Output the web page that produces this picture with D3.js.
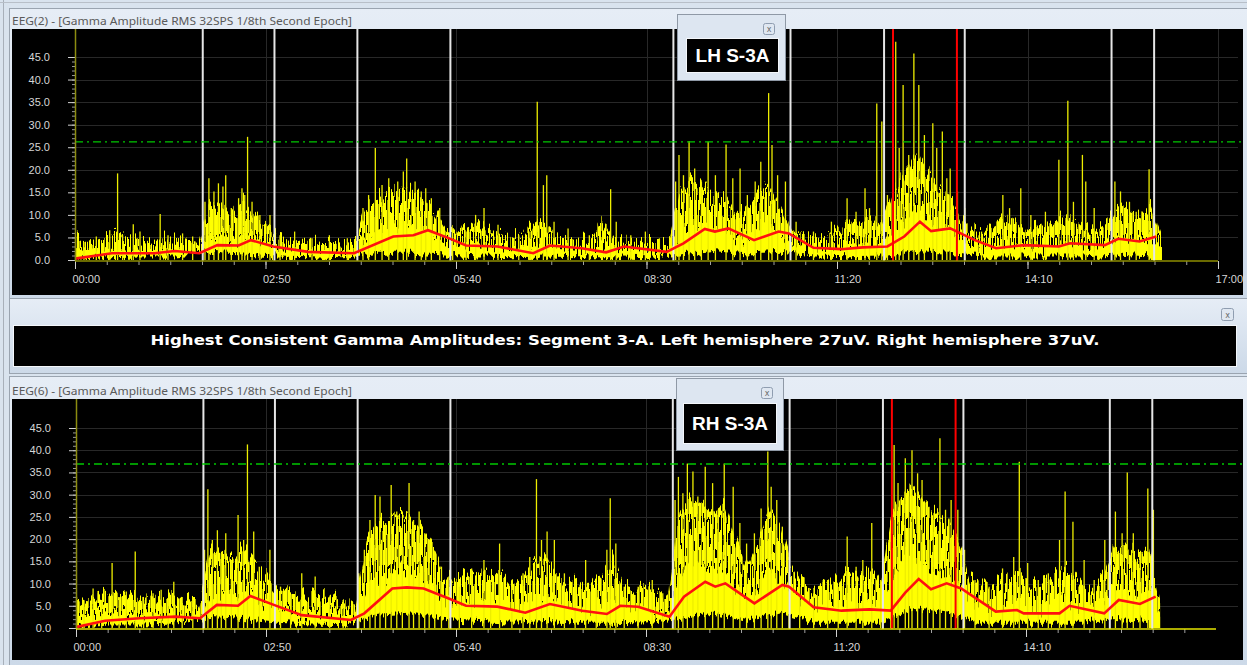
<!DOCTYPE html>
<html><head><meta charset="utf-8">
<script src="https://cdn.jsdelivr.net/npm/d3@7"></script>
<style>body{margin:0;background:#d6e0eb;overflow:hidden}svg{display:block}</style>
</head><body>
<svg id="c" width="1247" height="665"></svg>
<script>
// ---------------- DATA ----------------
const timeTickSeconds = [0, 170, 340, 510, 680, 850, 1020];
const timeTickLabels = ["00:00", "02:50", "05:40", "08:30", "11:20", "14:10", "17:00"];
const ampTicks = [0, 5, 10, 15, 20, 25, 30, 35, 40, 45];
const ampTickLabels = ["0.0", "5.0", "10.0", "15.0", "20.0", "25.0", "30.0", "35.0", "40.0", "45.0"];
const epochMarks = [114, 178, 252, 335, 534, 638.5, 722, 794, 925, 963];
const segmentMarks = [730, 787];
const lhThreshold = 26.2;
const rhThreshold = 36.9;

// sample grid (seconds) for the dense-signal envelopes
const bodyTimes = d3.range(0, 971, 10);
// solid core of the dense signal
const lhCore = [3.0,2.0,2.2,2.5,2.5,2.2,2.0,2.0,2.2,2.5,
  2.2,2.0,5.5,5.0,4.5,5.5,4.5,3.5,2.5,2.2,
  2.0,2.0,1.8,1.8,1.6,2.0,5.0,6.0,7.0,7.5,
  8.0,7.0,5.5,3.5,3.0,3.0,3.5,3.0,2.6,2.4,
  2.6,3.5,3.2,2.5,2.2,2.0,2.0,3.5,2.4,2.0,
  2.0,1.8,1.8,1.8,6.5,8.0,8.0,7.0,6.5,4.5,
  5.0,7.0,7.5,5.5,3.0,2.5,2.0,2.2,2.5,3.0,
  3.5,4.0,3.5,6.0,8.5,11.0,9.0,8.0,7.0,4.5,
  3.2,2.6,3.0,3.5,3.2,3.0,3.0,3.2,3.5,3.5,
  3.0,2.8,3.5,5.0,4.5,4.5,5.0,2.5];
// upper reach of the dense spiky fringe
const lhUpper = [5.0,4.0,4.5,5.5,6.0,5.0,4.5,4.0,5.0,5.0,
  4.5,4.0,13.0,12.0,10.0,13.0,10.0,8.0,5.5,5.0,
  4.5,4.5,4.0,4.0,3.5,4.5,12.0,14.0,15.0,16.0,
  16.0,14.0,11.0,7.0,6.5,7.0,8.0,6.5,6.0,5.0,
  6.0,8.5,7.5,5.5,5.0,4.5,4.5,9.0,5.0,4.5,
  4.5,4.0,4.0,4.0,16.0,18.0,17.0,15.0,14.0,10.0,
  12.0,15.0,17.0,12.0,6.5,5.5,5.0,5.5,6.5,8.0,
  9.0,9.5,8.0,15.0,19.0,24.0,20.0,17.0,14.0,9.0,
  7.0,6.0,8.0,9.5,8.0,7.0,7.5,8.0,9.5,9.0,
  7.0,6.5,8.0,12.0,11.0,10.0,12.0,5.0];
const rhCore = [3.5,2.5,2.8,3.2,2.8,3.2,2.8,3.0,3.2,3.0,
  2.8,2.5,8.0,7.5,6.5,8.5,7.0,5.0,4.0,3.0,
  3.2,3.0,2.8,2.5,2.2,2.8,9.0,11.0,12.0,13.0,
  12.5,11.0,9.0,6.5,5.0,5.5,6.0,5.5,6.0,4.5,
  5.0,7.0,7.5,5.5,4.5,5.0,4.0,5.0,7.0,4.5,
  4.0,4.0,3.5,3.2,12.0,15.0,14.0,13.0,14.0,9.5,
  6.5,9.0,13.0,11.0,6.5,4.5,4.0,4.5,4.5,5.5,
  5.0,6.0,4.5,12.0,15.0,16.0,14.0,13.0,12.0,9.0,
  5.0,4.5,4.5,5.0,5.5,5.0,4.5,4.8,5.5,6.0,
  4.5,4.0,5.5,9.0,8.5,7.5,8.5,3.0];
const rhUpper = [7.0,6.0,6.5,8.0,7.0,8.0,6.5,7.0,7.5,7.0,
  6.5,6.0,18.0,17.0,15.0,18.0,15.0,12.0,9.0,7.5,
  8.0,7.5,6.5,6.0,5.5,6.5,20.0,24.0,25.0,26.0,
  25.0,22.0,18.0,13.0,11.0,12.0,13.0,12.0,13.0,10.0,
  11.0,15.0,16.0,12.0,10.0,11.0,9.0,12.0,16.0,10.0,
  9.0,9.5,8.0,7.5,26.0,29.0,28.0,26.0,28.0,20.0,
  14.0,19.0,27.0,23.0,14.0,10.0,9.0,10.0,10.0,13.0,
  12.0,14.0,10.0,26.0,30.0,32.0,28.0,26.0,24.0,19.0,
  11.0,10.0,10.0,11.0,12.0,11.0,10.0,10.5,12.0,13.0,
  10.0,9.0,12.0,19.0,18.0,16.0,18.0,6.0];

const floorTimes = d3.range(0, 961, 30);
const lhFloor = [0.3,0.6,0.8,0.8,1.6,1.2,0.8,0.6,0.4,1.6,1.6,1.2,0.8,0.6,0.8,0.6,0.6,0.4,1.2,2.0,1.2,1.6,0.8,0.6,0.8,2.0,1.6,0.8,0.8,0.8,0.8,1.2,0.8];
const rhFloor = [0.3,0.8,0.8,1.0,2.5,2.0,1.2,0.8,0.6,3.0,3.5,2.0,1.6,1.2,1.6,1.2,1.2,1.0,2.0,3.5,1.6,3.5,1.2,1.2,1.2,4.5,3.5,1.2,1.2,1.2,1.2,2.0,1.6];

const lhSpikes = [[0.5,5.2],[8,4],[19,5.2],[31,6.6],[38,19.2],[42.5,5.5],[52,7.9],[58,6.3],[76,10.2],[83,5.5],[96,5.9],[105,5.2],
  [116,12.9],[119.5,18.1],[124,15.2],[128,17],[132,16.3],[134.5,18.8],[139.5,11.5],[146,13.7],[149,15.9],[151.5,14.4],[154,27.3],[158,12.9],[165,10],[174,10],
  [183,5.5],[196,6.3],[211.5,4.8],[227,5.5],[243,4.8],[257,11.5],[262,14.4],[268,24.8],[274,16.6],[280,18.1],[288,17.4],[293,19.6],[296,22.5],[303.5,17.4],
  [309,15.2],[313,15.9],[318,13.7],[325.5,11.5],[337,7],[349,6.3],[357.5,10],[365,11.5],[377.5,7.8],[396,5.5],[406,6.3],[412.5,35.1],[418,16.6],[421,18.8],
  [427.5,8.5],[440,7],[459,5.5],[478,15.7],[483,8.5],[496,5.5],[509,6.3],[521.5,4.8],[536,17.4],[539,23.3],[543,18.8],[548,26.4],[553,20.3],[559,17.4],
  [565,26.2],[571.5,18.8],[581,25.6],[587,18.1],[593.5,20.3],[600,14.4],[607,17.4],[612,21.8],[619,37],[622,25.5],[627,18.8],[634,17.4],[643.5,8.5],
  [659,6.3],[675,8.5],[689,13.7],[697,10.7],[705,15.9],[709,11.5],[715.5,34.7],[720,30.7],[725,14.4],[732.4,48.4],[735.5,24.8],[739,38.8],[744,23.3],
  [748.6,45.8],[753,38.8],[758,27.7],[765.5,30.3],[769,24.8],[774,28.5],[778,18.1],[781,20.3],[787.5,15.2],[794,11.5],[809,6.3],[828,14.4],[834,11.5],
  [844,15.9],[853,10],[866,10.7],[878,22.2],[886,35.3],[891,12.9],[899,23.3],[902,17.4],[909.5,11.5],[928,17.4],[933,15.2],[941,12.9],[947,10.7],
  [958.5,20.1],[963,11.5]];
const rhSpikes = [[0.5,7],[7.2,4.8],[15.3,8.9],[23,6.3],[32.3,14.6],[38.6,7],[45,8.2],[53,17.2],[60.5,6.3],[69,7.8],[76.2,8.6],[82.5,6.3],[87.5,10.4],
  [95,7],[104.5,6.3],[115,17.6],[118,31.2],[122,19.8],[126.5,22],[130,16.8],[134,21.3],[139,15.3],[145,25.4],[150,19.8],[153.4,41.3],[159,21.7],[164,13.8],
  [173.5,17.6],[183,9.3],[192,7.4],[202,12.3],[214,11.6],[227,7],[239,6.3],[253,12.3],[258,17.6],[263,24.3],[267.7,29.9],[272,29.6],[277,23.6],[282,32.2],
  [287,26.2],[292,22.8],[298,32.6],[302,24.3],[307,26.2],[312,21.3],[316,19.8],[321,17.2],[327,13.8],[333.6,11.6],[343,9.3],[354,13.4],[365,15.3],[371,10.8],
  [379,19],[390,9.3],[400,12.3],[406,16],[412,33.5],[416.5,19.8],[421.5,21.7],[428,19.8],[437,12.3],[446.6,10.8],[456,15.3],[465.5,8.6],[475,17.6],[478,29.2],
  [483,19],[490.5,9.3],[503,9.3],[515.6,10.8],[525,7.8],[536,28.8],[539,34],[543,30.3],[547,37],[552,35.2],[556.4,29.6],[563,36.3],[569.6,32.6],[574.6,26.6],
  [580,37],[588,31.8],[594,23.6],[600,19],[607,21.3],[613,26.9],[619,39.7],[622,31.8],[627,28.8],[632,22.8],[638,16],[647.5,9.3],[660,7.8],[672.5,10.8],
  [682,9.3],[690,20.6],[698,13.8],[704,15.3],[712,23.6],[720,10.8],[729,21.3],[732,41.2],[735.5,32.6],[742,38.2],[745,29.6],[748,40],[753,34.8],[757,33.3],
  [762,27.3],[767,24.3],[773,42.7],[778,26.6],[783,28.8],[789,26.6],[795,17.6],[804.4,10.8],[817,9.3],[829,13.4],[839,16],[844,37.4],[851.5,14.6],[861,10.8],
  [870,12.3],[880,19.8],[885,30.7],[892,23.9],[902,15.3],[911,10.8],[920.5,19.8],[930,26.2],[936,21.3],[940.6,35],[946,21.3],[952,16.8],[959,31.4],[964,26.6]];

const lhMean = [[0,0.3],[33,1.5],[71,1.5],[89,2.0],[111,1.5],[127,3.3],[146,3.2],[157,4.4],[177,3.0],[208,1.8],[249,1.5],[284,5.2],[302,5.5],[315,6.6],
  [334,4.8],[349,3.2],[377,3.0],[409,1.5],[424,3.2],[452,2.6],[474,1.7],[490,3.0],[528,1.8],[543,3.7],[562,6.9],[571,6.3],[583,7.0],[606,4.4],[628,6.3],
  [637,5.9],[659,2.7],[684,2.4],[703,2.8],[725,3.0],[740,5.2],[754,8.5],[764,6.4],[781,7.0],[803,4.4],[822,2.6],[847,3.3],[878,3.0],[888,3.7],[919,3.3],
  [931,4.7],[950,4.1],[965,5.2]];
const rhMean = [[0,0.2],[26,1.65],[57,2.2],[89,2.55],[111,2.2],[126,5.2],[145,5.0],[156,7.2],[177,5.2],[202,2.9],[246,1.8],[258,3.3],[283,8.9],[296,9.15],
  [311,8.9],[333,6.7],[349,5.0],[377,4.8],[402,3.45],[424,5.4],[453,3.9],[475,3.15],[487,5.0],[503,4.8],[531,2.55],[544,7.05],[563,10.4],[572,9.3],
  [581,10.05],[607,5.55],[632,9.7],[638,9.3],[660,4.65],[685,3.9],[710,4.2],[729,3.9],[742,7.95],[754,11.0],[765,8.7],[779,10.05],[792,8.9],[823,3.7],
  [842,4.05],[848,3.3],[880,3.3],[889,5.0],[920,3.3],[933,6.3],[952,5.4],[966,7.05]];

const summaryText = "Highest Consistent Gamma Amplitudes: Segment 3-A. Left hemisphere 27uV. Right hemisphere 37uV.";

// ---------------- DRAW ----------------
const svg = d3.select('#c');
const defs = svg.append('defs');
const hdr = defs.append('linearGradient').attr('id', 'hdr').attr('x1', 0).attr('y1', 0).attr('x2', 0).attr('y2', 1);
hdr.append('stop').attr('offset', 0).attr('stop-color', '#e6edf6');
hdr.append('stop').attr('offset', 1).attr('stop-color', '#ccd9e8');

// texture pattern (pure styling)
function makePattern(id, w, h, bg, stripes) {
  const pat = defs.append('pattern').attr('id', id).attr('patternUnits', 'userSpaceOnUse').attr('width', w).attr('height', h);
  if (bg) pat.append('rect').attr('width', w).attr('height', h).attr('fill', bg);
  stripes.forEach(s => pat.append('rect').attr('x', s[0]).attr('y', s[1]).attr('width', s[2]).attr('height', s[3]).attr('fill', s[4] || '#ffff00'));
}
const OL = '#a4a400';
makePattern('fringe', 29, 47, null, [
  [0,0,1,47],[1,20,1,27,OL],[2,5,1,30],[3,0,2,18],[3,30,2,17],[5,12,1,35,OL],[6,0,1,25],[6,33,1,14],
  [7,8,2,39],[9,0,1,10],[9,22,1,25],[10,15,1,32,OL],[11,3,2,44],[13,28,1,19],[14,0,1,20],[14,26,1,21],
  [15,10,2,37],[17,0,1,14,OL],[17,36,1,11,OL],[18,18,1,29],[19,0,2,30],[19,38,2,9],[21,6,1,41,OL],
  [22,0,1,12],[22,24,1,23],[23,16,2,31],[25,0,1,47],[26,30,1,17,OL],[27,2,1,22],[27,34,1,13],[28,12,1,35]]);

// ragged-edge filters: vertical-only jitter (texture only)
function makeRag(id, freq, scale, seed) {
  const f = defs.append('filter').attr('id', id).attr('filterUnits', 'userSpaceOnUse')
    .attr('x', 0).attr('y', 0).attr('width', 1247).attr('height', 665).attr('color-interpolation-filters', 'sRGB');
  f.append('feTurbulence').attr('type', 'fractalNoise').attr('baseFrequency', freq).attr('numOctaves', 2).attr('seed', seed).attr('result', 'n');
  f.append('feColorMatrix').attr('in', 'n').attr('type', 'matrix')
    .attr('values', '0 0 0 0 0.5  0 1 0 0 0  0 0 1 0 0  0 0 0 0 1').attr('result', 'n2');
  f.append('feDisplacementMap').attr('in', 'SourceGraphic').attr('in2', 'n2').attr('scale', scale)
    .attr('xChannelSelector', 'R').attr('yChannelSelector', 'G');
}
makeRag('rag', '0.35 0.004', 34, 5);
makeRag('rag2', '0.45 0.01', 16, 11);

svg.append('rect').attr('width', 1247).attr('height', 665).attr('fill', '#d9e3ee');
svg.append('line').attr('x1', 3.5).attr('x2', 3.5).attr('y1', 0).attr('y2', 665).attr('stroke', '#a8b0ba');
svg.append('line').attr('x1', 0).attr('x2', 1247).attr('y1', 2.5).attr('y2', 2.5).attr('stroke', '#b8bfc8');

function closeBtn(x, y, s) {
  const g = svg.append('g');
  g.append('rect').attr('x', x + 0.5).attr('y', y + 0.5).attr('width', s).attr('height', s).attr('rx', 2)
    .attr('fill', '#dfe7f1').attr('stroke', '#8f9db0');
  g.append('text').attr('x', x + s / 2 + 0.5).attr('y', y + s / 2 + 3.5).attr('text-anchor', 'middle')
    .attr('font-family', 'DejaVu Sans').attr('font-size', 8).attr('fill', '#6a6a6a').text('x');
}

const panels = [
  { id: 'lh', frame: [9, 8, 1238, 290], plot: [12, 29, 1231, 266], xRange: [75, 1218], yRange: [260, 57], gridRight: 1238,
    title: "EEG(2) - [Gamma Amplitude RMS 32SPS 1/8th Second Epoch]", titleY: 25, xAxisColor: '#8e8e00',
    majors: 7, minorEnd: 1020, core: lhCore, upper: lhUpper, floor: lhFloor, spikes: lhSpikes, mean: lhMean, thr: lhThreshold },
  { id: 'rh', frame: [9, 376, 1238, 289], plot: [12, 399, 1231, 261], xRange: [76, 1216], yRange: [628, 428], gridRight: 1238,
    title: "EEG(6) - [Gamma Amplitude RMS 32SPS 1/8th Second Epoch]", titleY: 395, xAxisColor: '#e6e600',
    majors: 6, minorEnd: 1000, core: rhCore, upper: rhUpper, floor: rhFloor, spikes: rhSpikes, mean: rhMean, thr: rhThreshold }
];

panels.forEach(p => {
  const [fx, fy, fw, fh] = p.frame;
  svg.append('rect').attr('x', fx + 0.5).attr('y', fy + 0.5).attr('width', fw).attr('height', fh)
    .attr('fill', 'url(#hdr)').attr('stroke', '#9aa4b0');
  svg.append('text').attr('x', 12).attr('y', p.titleY).attr('font-family', 'Noto Sans').attr('font-size', 11.5)
    .attr('fill', '#5a5a5a').attr('textLength', 340).attr('lengthAdjust', 'spacingAndGlyphs').text(p.title);
  const [px, py, pw, ph] = p.plot;
  svg.append('rect').attr('x', px).attr('y', py).attr('width', pw).attr('height', ph).attr('fill', '#000');

  const x = d3.scaleLinear().domain([0, 1020]).range(p.xRange);
  const y = d3.scaleLinear().domain([0, 45]).range(p.yRange);
  const g = svg.append('g');
  const y0 = y(0);

  defs.append('clipPath').attr('id', 'clip-' + p.id).append('rect')
    .attr('x', p.xRange[0]).attr('y', py).attr('width', p.xRange[1] - p.xRange[0]).attr('height', y0 - py);

  // grid
  g.append('g').selectAll('line').data(ampTicks.slice(1)).join('line')
    .attr('x1', p.xRange[0]).attr('x2', p.gridRight).attr('y1', d => Math.round(y(d)) + 0.5).attr('y2', d => Math.round(y(d)) + 0.5)
    .attr('stroke', '#282828');
  g.append('g').selectAll('line').data(timeTickSeconds.slice(1, p.majors)).join('line')
    .attr('x1', d => Math.round(x(d)) + 0.5).attr('x2', d => Math.round(x(d)) + 0.5).attr('y1', py).attr('y2', y0)
    .attr('stroke', '#282828');

  // spiky fringe (textured) and solid core, with ragged edges
  const clipG = g.append('g').attr('clip-path', `url(#clip-${p.id})`);
  const envG = clipG.append('g').attr('filter', 'url(#rag)');
  const envArea = d3.area().x((d, i) => x(bodyTimes[i])).y0(y0 + 24).y1(d => y(d));
  envG.append('path').datum(p.upper).attr('d', envArea).attr('fill', 'url(#fringe)');
  envG.append('path').datum(p.core).attr('d', envArea).attr('fill', '#ffff00');
  // floor gap (black, ragged)
  const floorArea = d3.area().x((d, i) => x(floorTimes[i])).y0(y0 + 12).y1(d => y(d));
  clipG.append('g').attr('filter', 'url(#rag2)').append('path').datum(p.floor).attr('d', floorArea).attr('fill', '#000');
  // isolated spikes
  g.append('g').selectAll('line').data(p.spikes).join('line')
    .attr('x1', d => x(d[0])).attr('x2', d => x(d[0])).attr('y1', y0).attr('y2', d => y(d[1]))
    .attr('stroke', '#eeee00').attr('stroke-width', 1.3);

  // epoch markers
  g.append('g').selectAll('line').data(epochMarks).join('line')
    .attr('x1', d => x(d)).attr('x2', d => x(d)).attr('y1', py).attr('y2', y0 + 1)
    .attr('stroke', '#e6e6e6').attr('stroke-width', 2);

  // threshold
  g.append('line').attr('x1', p.xRange[0]).attr('x2', 1243).attr('y1', y(p.thr)).attr('y2', y(p.thr))
    .attr('stroke', '#00c800').attr('stroke-width', 1.3).attr('stroke-dasharray', '8,4,2,4');

  // mean line
  const meanLine = d3.line().x(d => x(d[0])).y(d => y(d[1]));
  g.append('path').datum(p.mean).attr('d', meanLine).attr('fill', 'none').attr('stroke', '#ff1010').attr('stroke-width', 2.6);

  // segment markers
  g.append('g').selectAll('line').data(segmentMarks).join('line')
    .attr('x1', d => x(d)).attr('x2', d => x(d)).attr('y1', py).attr('y2', y0 + 1)
    .attr('stroke', '#ff0000').attr('stroke-width', 2);

  // axes
  const ax = p.xRange[0];
  const yMinor = g.append('g').attr('transform', `translate(${ax},0)`)
    .call(d3.axisLeft(y).tickValues(d3.range(0, 46, 1)).tickSize(3).tickFormat(''));
  yMinor.select('.domain').remove();
  yMinor.selectAll('line').attr('stroke', '#9a9a9a');
  const yAx = g.append('g').attr('transform', `translate(${ax},0)`)
    .call(d3.axisLeft(y).tickValues(ampTicks).tickSize(7).tickPadding(18).tickFormat((d, i) => ampTickLabels[i]));
  yAx.select('.domain').remove();
  yAx.selectAll('line').attr('stroke', '#d0d0d0');
  yAx.selectAll('text').attr('fill', '#d6d6d6').attr('font-family', 'Liberation Sans').attr('font-size', 11);
  g.append('line').attr('x1', ax + 0.5).attr('x2', ax + 0.5).attr('y1', py).attr('y2', y0 + 1)
    .attr('stroke', '#8c8c10').attr('stroke-width', 1.5);

  const xMinor = g.append('g').attr('transform', `translate(0,${y0 + 1})`)
    .call(d3.axisBottom(x).tickValues(d3.range(0, p.minorEnd + 1, 170 / 6)).tickSize(4).tickFormat(''));
  xMinor.select('.domain').remove();
  xMinor.selectAll('line').attr('stroke', '#a0a0a0');
  const majorVals = timeTickSeconds.slice(0, p.majors);
  const xAx = g.append('g').attr('transform', `translate(0,${y0 + 1})`)
    .call(d3.axisBottom(x).tickValues(majorVals).tickSize(8).tickPadding(6).tickFormat((d, i) => timeTickLabels[i]));
  xAx.select('.domain').remove();
  xAx.selectAll('line').attr('stroke', '#d0d0d0');
  xAx.selectAll('text').attr('fill', '#d6d6d6').attr('font-family', 'Liberation Sans').attr('font-size', 11)
    .attr('text-anchor', 'start').attr('dx', -3);
  g.append('line').attr('x1', ax).attr('x2', p.xRange[1]).attr('y1', y0 + 1).attr('y2', y0 + 1)
    .attr('stroke', p.xAxisColor).attr('stroke-width', 1.5);
});

// middle summary window
svg.append('rect').attr('x', 9.5).attr('y', 298.5).attr('width', 1238).attr('height', 75)
  .attr('fill', 'url(#hdr)').attr('stroke', '#9aa4b0');
svg.append('rect').attr('x', 13.5).attr('y', 325.5).attr('width', 1223).attr('height', 41)
  .attr('fill', '#000').attr('stroke', '#f4f7fb');
svg.append('text').attr('x', 625).attr('y', 345).attr('text-anchor', 'middle')
  .attr('font-family', 'DejaVu Sans').attr('font-weight', 'bold').attr('font-size', 14.5).attr('fill', '#fff')
  .attr('textLength', 949).attr('lengthAdjust', 'spacingAndGlyphs').text(summaryText);
closeBtn(1221, 308, 12);

// label boxes
function labelBox(bx, by, bw, bh, ix, iy, iw, ih, cx, cy, txt) {
  svg.append('rect').attr('x', bx + 0.5).attr('y', by + 0.5).attr('width', bw).attr('height', bh)
    .attr('fill', '#dde6f1').attr('stroke', '#8f99a6');
  svg.append('rect').attr('x', ix + 0.5).attr('y', iy + 0.5).attr('width', iw).attr('height', ih)
    .attr('fill', '#000').attr('stroke', '#f4f7fb');
  closeBtn(cx, cy, 11);
  svg.append('text').attr('x', ix + iw / 2 + 0.5).attr('y', iy + ih / 2 + 7).attr('text-anchor', 'middle')
    .attr('font-family', 'Liberation Sans').attr('font-weight', 'bold').attr('font-size', 19).attr('fill', '#fff').text(txt);
}
labelBox(677, 14, 108, 66, 686, 38, 92, 34, 763, 23, "LH S-3A");
labelBox(676, 378, 107, 72, 683, 403, 93, 40, 761, 387, "RH S-3A");
</script>
</body></html>
